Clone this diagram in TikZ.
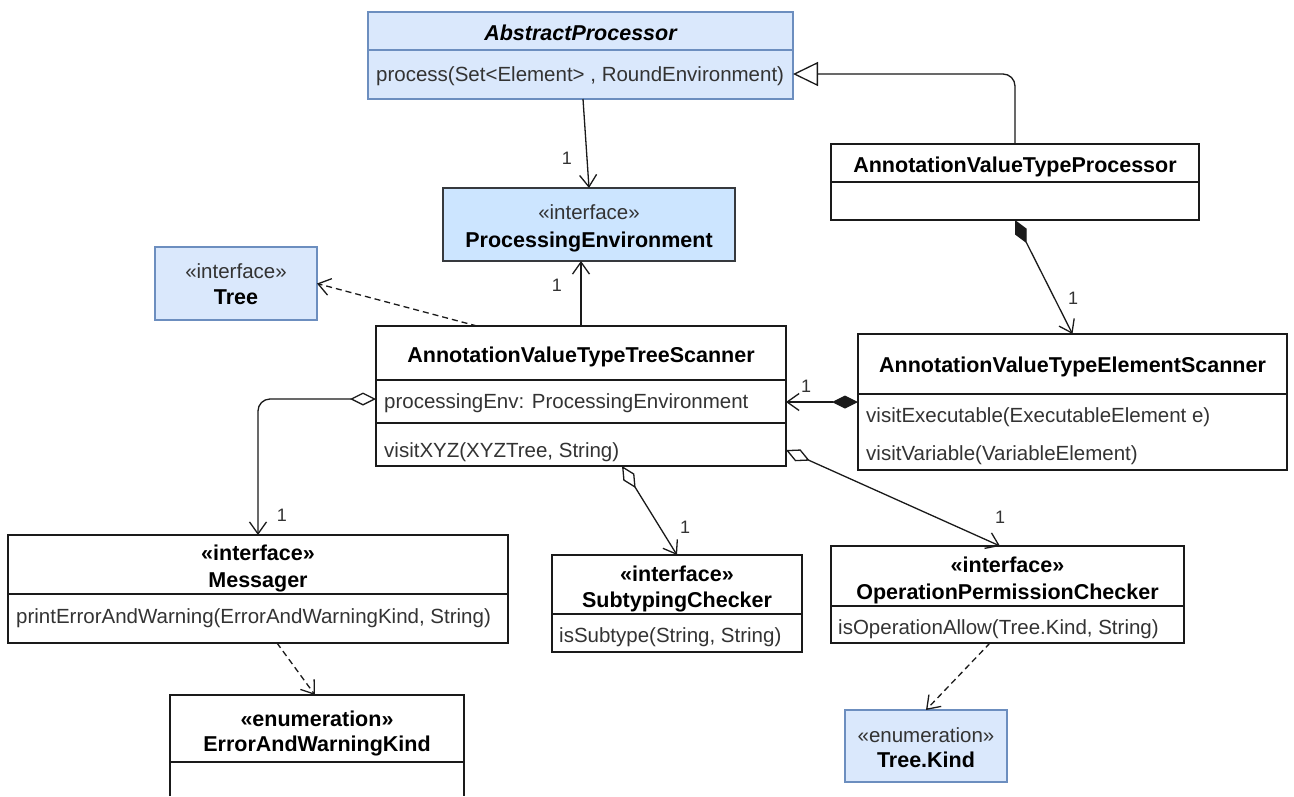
\documentclass[tikz,border=0pt]{standalone}
\usepackage{fontspec}
\setmainfont{Liberation Sans}
\usetikzlibrary{arrows.meta}
\definecolor{lb}{HTML}{DAE8FC}
\definecolor{lbb}{HTML}{6C8EBF}
\definecolor{pefill}{HTML}{CCE5FF}
\definecolor{pebd}{HTML}{36393D}
\definecolor{tx}{HTML}{333333}
\definecolor{ln}{HTML}{1A1A1A}
\begin{document}
\begin{tikzpicture}[x=1pt,y=-1pt,
  box/.style={draw=ln, fill=white, line width=1.3pt, anchor=north west, inner sep=0pt, outer sep=0pt},
  bbox/.style={box, draw=lbb, fill=lb},
  pbox/.style={box, draw=pebd, fill=pefill},
  ttl/.style={font=\bfseries\fontsize{21.5}{24}\selectfont, inner sep=0pt, text height=0.72em, text depth=0pt, yshift=-3.5pt},
  st/.style={font=\fontsize{20.5}{24}\selectfont, text=tx, inner sep=0pt, text height=0.72em, text depth=0pt, yshift=-3.5pt},
  attr/.style={st, anchor=west},
  lbl/.style={font=\fontsize{18}{20}\selectfont, text=tx, inner sep=0pt},
  divl/.style={draw=ln, line width=1.3pt},
  conn/.style={draw=ln, line width=1.3pt},
  assoc/.style={conn, -{Straight Barb[length=12pt,width=17pt]}},
  dep/.style={conn, dash pattern=on 6pt off 4pt, -{Straight Barb[length=12pt,width=17pt]}},
  comp/.style={conn, {Diamond[length=26pt,width=13pt]}-{Straight Barb[length=12pt,width=17pt]}},
  aggr/.style={conn, {Diamond[open,fill=white,length=26pt,width=13pt]}-{Straight Barb[length=12pt,width=17pt]}},
  gen/.style={conn, -{Triangle[open,fill=white,length=25pt,width=24pt]}}
]
\fill[white] (0,0) rectangle (1294,796);
\useasboundingbox (0,0) rectangle (1294,796);

% ---- boxes ----
\node[bbox, minimum width=425pt, minimum height=87pt] (ap) at (368,12) {};
\node[pbox, minimum width=292pt, minimum height=73pt] (pe) at (443,188) {};
\node[bbox, minimum width=162pt, minimum height=73pt] (tree) at (155,247) {};
\node[box, minimum width=368pt, minimum height=76pt] (avtp) at (831,144) {};
\node[box, minimum width=410pt, minimum height=140pt] (ts) at (376,326) {};
\node[box, minimum width=429pt, minimum height=136pt] (es) at (858,334) {};
\node[box, minimum width=500pt, minimum height=108pt] (msg) at (8,535) {};
\node[anchor=north west, fill=white, inner sep=0pt, outer sep=0pt, minimum width=294pt, minimum height=101pt] (ewk) at (170,695) {};
\draw[divl] (ewk.south west) |- (ewk.north east) -- (ewk.south east);
\node[box, minimum width=250pt, minimum height=97pt] (sc) at (552,555) {};
\node[box, minimum width=353pt, minimum height=97pt] (opc) at (831,546) {};
\node[bbox, minimum width=162pt, minimum height=72pt] (tk) at (845,710) {};

% ---- dividers ----
\draw[divl, draw=lbb] (ap.west |- 0,50) -- (ap.east |- 0,50);
\draw[divl] (avtp.west |- 0,182) -- (avtp.east |- 0,182);
\draw[divl] (ts.west |- 0,380) -- (ts.east |- 0,380);
\draw[divl] (ts.west |- 0,423) -- (ts.east |- 0,423);
\draw[divl] (es.west |- 0,394) -- (es.east |- 0,394);
\draw[divl] (msg.west |- 0,594) -- (msg.east |- 0,594);
\draw[divl] (ewk.west |- 0,762) -- (ewk.east |- 0,762);
\draw[divl] (sc.west |- 0,614) -- (sc.east |- 0,614);
\draw[divl] (opc.west |- 0,606) -- (opc.east |- 0,606);

% ---- texts ----
\node[ttl] (apT) at (580.5,33) {\itshape AbstractProcessor};
\node[attr] (apA) at (376,74) {process(Set<Element> , RoundEnvironment)};
\node[st] (peS) at (589,212) {«interface»};
\node[ttl] (peT) at (589,240) {ProcessingEnvironment};
\node[st] (trS) at (236,271) {«interface»};
\node[ttl] (trT) at (236,297) {Tree};
\node[ttl] (avtpT) at (1015,165) {AnnotationValueTypeProcessor};
\node[ttl] (tsT) at (581,355) {AnnotationValueTypeTreeScanner};
\node[attr] (tsA) at (384,401) {processingEnv: ProcessingEnvironment};
\node[attr] (tsM) at (384,450) {visitXYZ(XYZTree, String)};
\node[ttl] (esT) at (1072.5,365) {AnnotationValueTypeElementScanner};
\node[attr] (esM1) at (866,415) {visitExecutable(ExecutableElement e)};
\node[attr] (esM2) at (866,453) {visitVariable(VariableElement)};
\node[ttl] (msgS) at (258,553) {«interface»};
\node[ttl] (msgT) at (258,580) {Messager};
\node[attr] (msgM) at (16,616) {printErrorAndWarning(ErrorAndWarningKind, String)};
\node[ttl] (ewkS) at (317,719) {«enumeration»};
\node[ttl] (ewkT) at (317,744) {ErrorAndWarningKind};
\node[ttl] (scS) at (677,574) {«interface»};
\node[ttl] (scT) at (677,600) {SubtypingChecker};
\node[attr] (scM) at (559,635) {isSubtype(String, String)};
\node[ttl] (opcS) at (1007.5,565) {«interface»};
\node[ttl] (opcT) at (1007.5,592) {OperationPermissionChecker};
\node[attr] (opcM) at (838,627) {isOperationAllow(Tree.Kind, String)};
\node[st] (tkS) at (926,735) {«enumeration»};
\node[ttl] (tkT) at (926,760) {Tree.Kind};

% ---- connectors ----
\draw[assoc] ([xshift=2.5pt]ap.south) -- (pe.north);
\draw[gen, rounded corners=12pt] (avtp.north) |- ([yshift=-18.5pt]ap.east);
\draw[comp] (avtp.south) -- (es.north);
\draw[assoc] (ts.north) -- (ts.north |- pe.south);
\draw[dep] ([xshift=-104pt]ts.north) -- (tree.east);
\draw[comp] (es.west) -- (ts.east |- es.west);
\draw[aggr, rounded corners=12pt] ([yshift=-3pt]ts.west) -| (msg.north);
\draw[aggr] ([xshift=41pt]ts.south) -- (sc.north);
\draw[aggr] ([yshift=16pt]ts.south east) -- ([xshift=-7.5pt]opc.north);
\draw[dep] ([xshift=19pt]msg.south) -- ([xshift=-2pt]ewk.north);
\draw[dep] ([xshift=-17.5pt]opc.south) -- (tk.north);

% ---- multiplicities ----
\node[lbl] (m1) at (567,158) {1};
\node[lbl] (m2) at (1073,298) {1};
\node[lbl] (m3) at (557,285) {1};
\node[lbl] (m4) at (806,386) {1};
\node[lbl] (m5) at (282,515) {1};
\node[lbl] (m6) at (685,527) {1};
\node[lbl] (m7) at (1000,517) {1};
\end{tikzpicture}
\end{document}
